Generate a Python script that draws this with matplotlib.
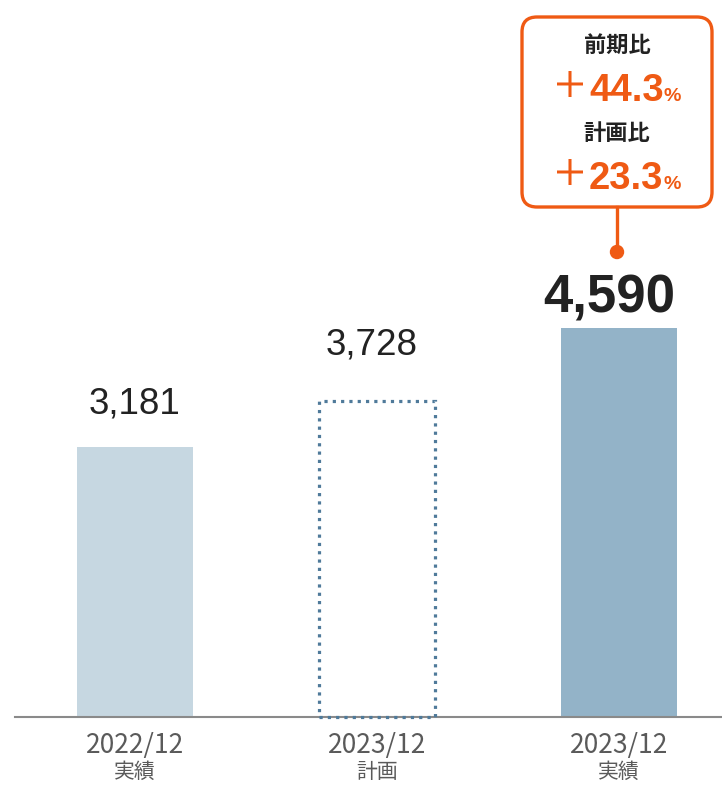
import matplotlib
matplotlib.use("Agg")
import matplotlib.pyplot as plt
from matplotlib.patches import FancyBboxPatch, Circle
from matplotlib.lines import Line2D

# ---- data ----
periods = ["2022/12", "2023/12", "2023/12"]
kinds = ["実績", "計画", "実績"]
values = [3181, 3728, 4590]
value_labels = ["3,181", "3,728", "4,590"]
callout_titles = ["前期比", "計画比"]
callout_values = ["44.3", "23.3"]

# ---- style ----
W, H, DPI = 722, 785, 100
fig = plt.figure(figsize=(W / DPI, H / DPI), dpi=DPI)
fig.patch.set_facecolor("white")

base_px = 717
left_px = 15
ax = fig.add_axes([left_px / W, (H - base_px) / H, (W - left_px) / W, base_px / H])
px_per_unit = 0.0848
ax.set_ylim(0, base_px / px_per_unit)
spacing = 242.0
c0 = 135
ax.set_xlim(-(c0 - left_px) / spacing, 2 + (W - (c0 + 2 * spacing)) / spacing)
for s in ["top", "right", "left"]:
    ax.spines[s].set_visible(False)
ax.spines["bottom"].set_color("#8a8a8a")
ax.spines["bottom"].set_linewidth(1.5)
ax.set_yticks([])
ax.set_xticks([])
ax.set_facecolor("none")

bw = 116 / spacing
fills = ["#c6d7e1", "none", "#93b3c8"]
x = list(range(len(values)))
bars = ax.bar(x, values, width=bw, color=fills, zorder=2)
bars[1].set_edgecolor("#4f7a9a")
bars[1].set_linewidth(2.3)
bars[1].set_linestyle((0, (1.0, 1.6)))
bars[1].set_capstyle("butt")
bars[1].set_zorder(3)
bars[1].set_clip_on(False)

num_font = "Liberation Sans"
offsets_px = [34, 46, 15]
xoff_px = [0, -5, -10]
sizes = [26.5, 26.5, 38]
weights = ["normal", "normal", "bold"]
for i, (v, lab) in enumerate(zip(values, value_labels)):
    ax.annotate(lab, (i, v), xytext=(xoff_px[i] * 72 / DPI, offsets_px[i] * 72 / DPI),
                textcoords="offset points",
                ha="center", va="baseline", fontsize=sizes[i], fontweight=weights[i],
                family=num_font, color="#222222")

cjk = ["Noto Sans CJK JP", "DejaVu Sans"]
for i in x:
    ax.annotate(periods[i], (i, 0), xytext=(0, -(745 - base_px) * 72 / DPI), textcoords="offset points",
                ha="center", va="center", fontsize=19, family=cjk, color="#5a5a5a")
    ax.annotate(kinds[i], (i, 0), xytext=(0, -(772 - base_px) * 72 / DPI), textcoords="offset points",
                ha="center", va="center", fontsize=15, family=cjk, color="#5a5a5a")

# ---- callout overlay (pixel coordinates) ----
ov = fig.add_axes([0, 0, 1, 1], zorder=5)
ov.set_xlim(0, W)
ov.set_ylim(H, 0)
ov.axis("off")
ov.patch.set_alpha(0)

orange = "#ef5a14"
box = FancyBboxPatch((522, 17), 190, 190, boxstyle="round,pad=0,rounding_size=15",
                     facecolor="white", edgecolor=orange, linewidth=2.4)
ov.add_patch(box)
ov.add_line(Line2D([617, 617], [207, 248], color=orange, linewidth=2.4))
ov.add_patch(Circle((617, 252), 6.5, color=orange))

title_y = [45, 133]
base_y = [101, 189]
for k in range(2):
    ov.text(617, title_y[k], callout_titles[k], ha="center", va="center", fontsize=16,
            fontweight="bold", family=cjk, color="#222222")
    ov.text(570, base_y[k] - 13, "＋", ha="center", va="center", fontsize=26, fontweight="medium",
            family=cjk, color=orange)
    ov.text(589, base_y[k], callout_values[k], ha="left", va="baseline", fontsize=27.5,
            fontweight="bold", family=num_font, color=orange)
    ov.text(663, base_y[k], "%", ha="left", va="baseline", fontsize=14,
            fontweight="bold", family=num_font, color=orange)

fig.savefig("out.png", dpi=DPI)
